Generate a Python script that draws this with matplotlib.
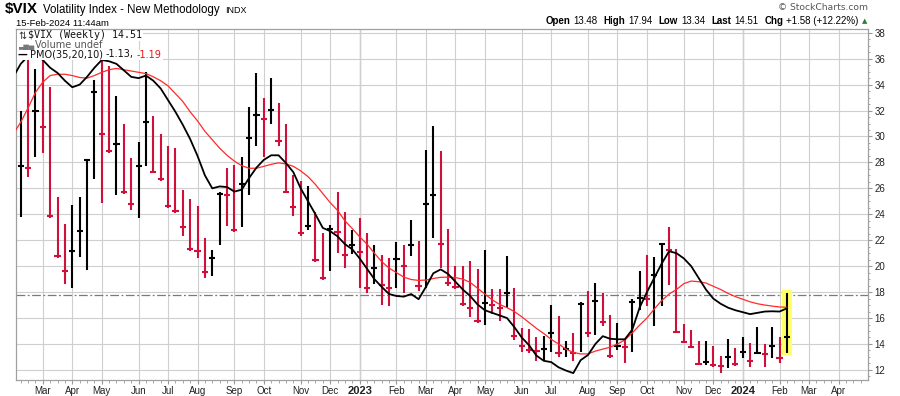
import numpy as np
import pandas as pd
import matplotlib
matplotlib.use("Agg")
import matplotlib.pyplot as plt
from matplotlib.transforms import IdentityTransform
from matplotlib.patches import Rectangle

# weekly $VIX bars, first bar is the week of Mon 14-Feb-2022
start_week = "2022-02-14"
prev_close = 27.36

highs = [32.0, 37.8, 35.2, 36.5, 33.8, 25.3, 23.25, 24.7, 25.3, 28.3,
         34.35, 36.7, 35.4, 33.1, 31.0, 28.35, 29.55, 35.0, 31.55, 30.2,
         29.3, 29.1, 25.9, 25.2, 24.65, 22.2, 21.25, 25.7, 27.6, 27.8,
         28.4, 32.25, 34.9, 33.0, 34.5, 32.6, 31.0, 27.05, 26.6, 26.15,
         24.15, 22.55, 23.2, 25.75, 24.2, 22.75, 23.7, 22.55, 21.65, 20.85,
         20.6, 21.85, 21.65, 23.55, 21.95, 28.95, 30.8, 28.9, 22.85, 20.0,
         20.0, 20.4, 19.75, 21.25, 18.2, 18.2, 20.8, 18.3, 15.2, 15.15,
         14.55, 14.6, 17.0, 16.15, 14.25, 14.85, 17.25, 18.05, 18.7, 17.95,
         16.2, 15.6, 14.3, 17.45, 19.65, 20.85, 20.7, 21.8, 23.05, 21.35,
         15.55, 15.1, 14.25, 14.25, 13.85, 13.05, 14.35, 13.65, 14.55, 14.05,
         15.3, 14.0, 15.3, 14.5, 17.94]
lows = [23.8, 26.85, 28.4, 28.75, 23.7, 20.6, 18.6, 18.35, 20.7, 19.7,
        26.75, 24.85, 28.7, 25.5, 25.55, 24.3, 23.7, 27.7, 27.15, 26.6,
        24.5, 24.1, 22.35, 21.2, 20.6, 19.05, 19.25, 21.6, 23.1, 22.6,
        23.05, 25.5, 29.3, 28.45, 31.0, 29.25, 25.7, 23.9, 22.3, 22.8,
        20.3, 18.9, 19.65, 21.0, 19.85, 20.95, 18.3, 17.9, 18.6, 17.0,
        16.95, 18.35, 17.95, 20.8, 18.1, 18.35, 22.2, 19.85, 18.45, 18.2,
        16.9, 16.05, 15.6, 15.45, 16.3, 15.8, 16.75, 14.3, 13.4, 13.3,
        12.65, 12.75, 13.35, 13.0, 13.0, 12.65, 13.4, 14.55, 14.7, 15.4,
        12.95, 13.55, 12.55, 13.4, 16.6, 16.95, 15.4, 16.9, 18.55, 14.85,
        14.1, 13.7, 12.45, 12.35, 12.25, 11.75, 12.15, 12.3, 12.9, 12.25,
        13.2, 12.25, 12.9, 12.55, 13.34]
closes = [27.75, 27.59, 31.98, 30.75, 23.87, 20.81, 19.63, 21.16, 22.70, 28.21,
          33.40, 30.19, 28.87, 29.43, 25.72, 24.79, 27.75, 31.13, 27.23, 26.70,
          24.64, 24.23, 23.03, 21.33, 21.15, 19.53, 20.60, 25.56, 25.47, 22.79,
          26.30, 29.92, 31.62, 31.36, 32.02, 29.69, 25.75, 24.55, 22.52, 23.12,
          20.50, 19.06, 22.83, 22.62, 20.87, 21.67, 21.13, 18.35, 19.85, 18.51,
          18.33, 20.53, 20.02, 21.67, 18.49, 24.80, 25.51, 21.74, 18.70, 18.40,
          17.07, 16.77, 15.78, 17.19, 17.03, 16.81, 17.95, 14.60, 13.83, 13.54,
          13.44, 13.59, 14.83, 13.34, 13.60, 13.33, 17.10, 14.84, 17.30, 15.68,
          13.09, 13.84, 13.79, 17.20, 17.52, 17.45, 19.32, 21.71, 21.27, 14.91,
          14.17, 13.80, 12.46, 12.63, 12.35, 12.28, 13.03, 12.45, 13.35, 12.70,
          13.30, 13.26, 13.85, 12.93, 14.51]

# overlay lines, one value per week starting one week before the first bar
pmo_line = [34.6, 35.6, 36.2, 36.3, 35.9, 35.3, 34.9, 34.3, 33.8, 34.0,
            34.6, 35.3, 35.9, 35.8, 35.6, 35.1, 34.6, 34.5, 34.7, 34.3,
            33.7, 32.8, 31.9, 30.9, 29.8, 28.5, 27.0, 26.0, 26.15, 26.1,
            25.75, 25.9, 26.8, 27.6, 28.2, 28.55, 28.55, 27.95, 27.25, 26.0,
            25.0, 24.0, 22.95, 22.7, 22.3, 21.7, 21.3, 20.6, 19.8, 19.0,
            18.4, 17.85, 17.7, 17.65, 17.85, 17.45, 18.4, 19.45, 19.75, 19.4,
            18.8, 18.2, 17.7, 17.05, 16.6, 16.4, 16.2, 16.0, 15.3, 14.5,
            13.9, 13.1, 12.7, 12.6, 12.2, 11.95, 11.75, 12.75, 13.15, 14.0,
            14.6, 14.4, 14.36, 14.36, 15.1, 16.8, 18.0, 19.1, 20.2, 21.15,
            21.0, 20.6, 20.0, 19.1, 18.2, 17.5, 17.1, 16.8, 16.6, 16.45,
            16.3, 16.4, 16.5, 16.52, 16.5, 16.75]
signal_line = [30.2, 31.1, 32.2, 33.4, 34.2, 34.7, 34.8, 34.8, 34.7, 34.55,
               34.5, 34.7, 34.95, 35.15, 35.25, 35.15, 35.05, 34.95, 34.85, 34.6,
               34.3, 33.9, 33.3, 32.7, 31.9, 31.2, 30.4, 29.75, 29.1, 28.55,
               28.1, 27.75, 27.55, 27.55, 27.7, 27.85, 27.97, 27.88, 27.7, 27.35,
               26.9, 26.3, 25.6, 24.9, 24.3, 23.5, 22.9, 22.27, 21.7, 21.0,
               20.35, 19.85, 19.5, 19.15, 18.97, 18.9, 18.93, 19.05, 19.14, 19.15,
               19.12, 19.0, 18.75, 18.3, 17.85, 17.4, 17.05, 16.8, 16.5, 16.1,
               15.65, 15.2, 14.8, 14.35, 14.0, 13.6, 13.35, 13.23, 13.23, 13.45,
               13.6, 13.75, 14.0, 14.3, 14.85, 15.45, 16.0, 16.7, 17.35, 17.85,
               18.2, 18.65, 18.85, 18.8, 18.7, 18.45, 18.2, 17.9, 17.65, 17.45,
               17.25, 17.1, 17.0, 16.92, 16.85, 16.83]

last_open, last_high, last_low, last_close = 13.48, 17.94, 13.34, 14.51
chg, chg_pct = 1.58, 12.22
pmo_val, signal_val = -1.13, -1.19
hline_level = 17.8

RED = "#d0103a"
W, H = 900, 396

fig = plt.figure(figsize=(W / 100, H / 100), dpi=100)
ax = fig.add_axes([16 / W, 1 - 380 / H, (868 - 16) / W, (380 - 29) / H])

n = len(closes)
x = np.arange(n)
prev = np.r_[prev_close, closes[:-1]]
bar_colors = np.where(np.array(closes) >= prev, "black", RED)

# highlight of the current bar
ax.add_patch(Rectangle((x[-1] - 0.62, last_low - 0.2), 1.24, last_high - last_low + 0.4,
                       facecolor="#ffff66", edgecolor="none", zorder=2.5))

ax.vlines(x, lows, highs, colors=bar_colors, lw=1.5, zorder=3)
ax.hlines(closes, x - 0.42, x + 0.42, colors=bar_colors, lw=1.5, zorder=3)

xl = np.arange(-1, n)
ax.plot(xl, signal_line, color="#ff2a2a", lw=0.9, zorder=4)
ax.plot(xl, pmo_line, color="black", lw=1.3, zorder=4)

ax.axhline(hline_level, color="#7a7a7a", lw=0.9, ls=(0, (7, 2, 1.5, 2)), zorder=2)

# month ticks at the first weekly bar of each month
weeks = pd.date_range(start_week, periods=116, freq="W-MON")
month_pos = [i for i in range(1, len(weeks)) if weeks[i].month != weeks[i - 1].month]
month_lab = [str(weeks[i].year) if weeks[i].month == 1 else weeks[i].strftime("%b") for i in month_pos]

ax.set_xlim(-0.64, 115)
ax.set_ylim(11.22, 38.29)
ax.set_xticks(month_pos)
ax.set_xticklabels(month_lab)
ax.set_xticks(np.arange(0, 115), minor=True)
ax.set_yticks(np.arange(12, 39, 2))
ax.set_yticks(np.arange(11.5, 38.3, 0.5), minor=True)
ax.yaxis.tick_right()

ax.grid(True, which="major", color="#cfcfcf", lw=0.8, zorder=0)
for i in month_pos:
    if weeks[i].month == 1:
        ax.axvline(i, color="#9a9a9a", lw=0.9, zorder=0.5)
ax.set_axisbelow(True)

for lab in ax.get_xticklabels():
    lab.set_fontfamily("Liberation Sans")
    lab.set_fontsize(7)
    lab.set_color("#222222")
    if lab.get_text().isdigit():
        lab.set_fontweight("bold")
        lab.set_fontsize(8)
for lab in ax.get_yticklabels():
    lab.set_fontfamily("Liberation Sans")
    lab.set_fontsize(7)
    lab.set_color("#222222")

ax.tick_params(axis="x", which="major", length=3, pad=1.5, color="#999999")
ax.tick_params(axis="x", which="minor", length=2, color="#999999")
ax.tick_params(axis="y", which="major", length=3, pad=1.5, color="#999999")
ax.tick_params(axis="y", which="minor", length=1.5, color="#999999")
for sp in ax.spines.values():
    sp.set_color("#a0a0a0")
    sp.set_linewidth(0.9)

renderer = fig.canvas.get_renderer()


def put_row(pieces, x0, y_top, align="left", bg=None, zorder=5):
    # pieces: (text, gap_before_px, kwargs); y_top is the baseline in image pixels from the top
    objs = []
    for s, gap, kw in pieces:
        t = fig.text(0, 0, s, transform=IdentityTransform(), va="baseline", zorder=zorder, **kw)
        objs.append((t, gap))
    widths = [t.get_window_extent(renderer).width for t, _ in objs]
    total = sum(widths) + sum(g for _, g in objs)
    cur = x0 if align == "left" else x0 - total
    for (t, gap), w in zip(objs, widths):
        cur += gap
        t.set_position((cur, H - y_top))
        cur += w
    if bg is not None:
        # one white strip behind the whole row, like the chart's legend
        left = x0 if align == "left" else x0 - total
        fig.patches.append(Rectangle((left - 1, H - y_top - 2.5), total + 2, 10,
                                     transform=IdentityTransform(), facecolor=bg,
                                     edgecolor="none", zorder=zorder - 1))


sans = "Liberation Sans"
put_row([("$VIX", 0, dict(fontsize=11, fontweight="bold", family=sans)),
         ("Volatility Index - New Methodology", 5, dict(fontsize=8.3, family=sans)),
         ("INDX", 6, dict(fontsize=6.5, family=sans))], 5, 13)
put_row([("15-Feb-2024 11:44am", 0, dict(fontsize=6.8, family=sans))], 16, 25.5)
put_row([("\u00a9 StockCharts.com", 0, dict(fontsize=6.6, family="DejaVu Sans", color="#555555"))],
        868, 10, align="right")

bold = dict(fontsize=7, fontweight="bold", family=sans)
reg = dict(fontsize=7, family=sans)
put_row([("Open", 0, bold), (f"{last_open:.2f}", 3, reg),
         ("High", 6, bold), (f"{last_high:.2f}", 3, reg),
         ("Low", 6, bold), (f"{last_low:.2f}", 3, reg),
         ("Last", 6, bold), (f"{last_close:.2f}", 3, reg),
         ("Chg", 6, bold), (f"+{chg:.2f} (+{chg_pct:.2f}%)", 3, reg),
         ("\u25b2", 3, dict(fontsize=5, family="DejaVu Sans", color="#2e7d32"))],
        867, 23.5, align="right")

# legend block in the top-left of the plot
leg = dict(fontsize=7, family="DejaVu Sans", color="#111111")
put_row([("\u21c5", 0, dict(fontsize=7, family="DejaVu Sans", color="#333333")),
         (f"$VIX (Weekly) {last_close:.2f}", 2, dict(fontsize=7.2, family="DejaVu Sans Mono", color="#111111"))],
        18, 38.5, bg="white", zorder=10)
put_row([("\u2583\u2586\u2585", 0, dict(fontsize=5, family="DejaVu Sans", color="#777777")),
         ("Volume undef", 0.5, dict(fontsize=7, family="DejaVu Sans", color="#555555"))],
        18, 48, bg="white", zorder=10)
put_row([("\u2014", 0, dict(fontsize=7, family="DejaVu Sans", color="black", fontweight="bold")),
         ("PMO(35,20,10)", 2, leg), (f"{pmo_val:.2f},", 3, leg),
         (f"{signal_val:.2f}", 3, dict(fontsize=7, family="DejaVu Sans", color="#ee1111"))],
        18, 57.5, bg="white", zorder=10)

fig.savefig("out.png", dpi=100)
